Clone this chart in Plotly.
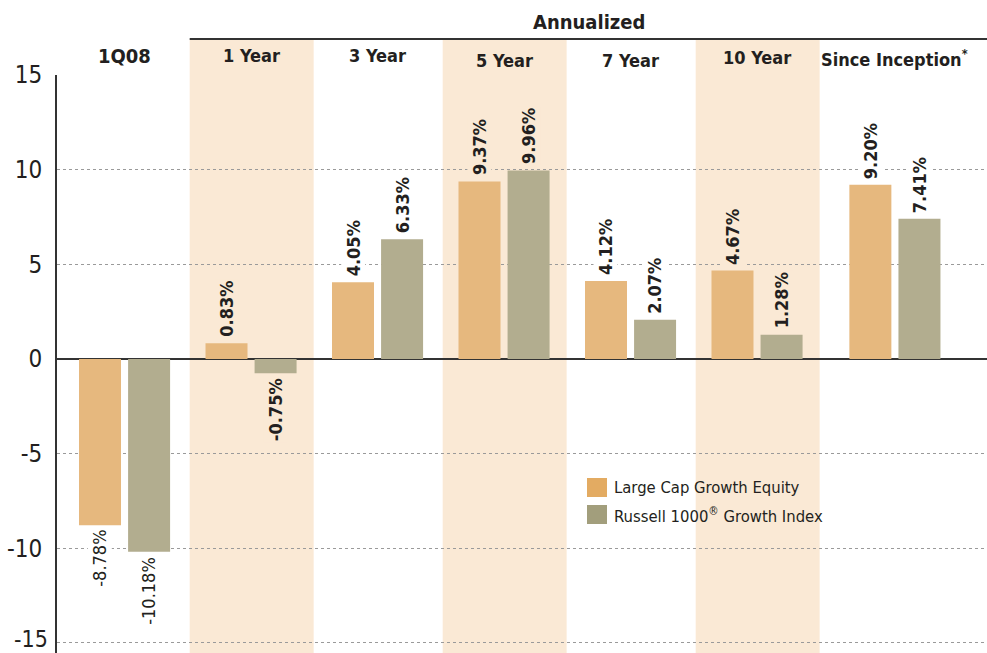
import plotly.graph_objects as go

# ---------------- data ----------------
categories = ["1Q08", "1 Year", "3 Year", "5 Year", "7 Year", "10 Year", "Since Inception"]
header_text = ["1Q08", "1 Year", "3 Year", "5 Year", "7 Year", "10 Year", "Since Inception<sup>*</sup>"]
large_cap = [-8.78, 0.83, 4.05, 9.37, 4.12, 4.67, 9.20]
russell = [-10.18, -0.75, 6.33, 9.96, 2.07, 1.28, 7.41]
series_names = ["Large Cap Growth Equity", "Russell 1000<sup>®</sup> Growth Index"]
y_ticks = [-15, -10, -5, 0, 5, 10, 15]
shaded = ["1 Year", "5 Year", "10 Year"]
group_title = "Annualized"

# ---------------- style ----------------
FONT = "DejaVu Sans Condensed, Liberation Sans Narrow, sans-serif"
TXT = "#231F20"
C1 = "#E6B87E"
C2 = "#B2AD8F"
SW1 = "#E3AB62"
SW2 = "#A29E7C"
BAND = "#FAE9D5"
cat_pos = [0, 1, 2, 3, 4, 5, 6.09]     # layout positions of categories
header_dy = [0, 0, 0, -5, -5, -2, -2]   # small vertical stagger of headers (px)
header_size = [20, 18, 18, 18, 18, 18, 18]
BW = 0.332
Y_RANGE = [-15.53, 15.001]

fig = go.Figure()
fig.add_trace(go.Bar(x=cat_pos, y=large_cap, name=series_names[0], marker_color=C1,
                     width=BW, offset=-0.36, marker_line_width=0, showlegend=False))
fig.add_trace(go.Bar(x=cat_pos, y=russell, name=series_names[1], marker_color=C2,
                     width=BW, offset=0.028, marker_line_width=0, showlegend=False))

shapes = []
annotations = []
# shaded bands
for c, p in zip(categories, cat_pos):
    if c in shaded:
        shapes.append(dict(type="rect", xref="x", yref="paper", x0=p - 0.485, x1=p + 0.495,
                           y0=0, y1=1.0623, fillcolor=BAND, line_width=0, layer="below"))

# Annualized line + title
x_start = cat_pos[1] - 0.485
shapes.append(dict(type="line", xref="x", yref="paper", x0=x_start, x1=6.818,
                   y0=1.0623, y1=1.0623, line=dict(color="#333333", width=2)))
annotations.append(dict(text="<b>" + group_title + "</b>", xref="paper", yref="paper",
                        x=0.572, y=1.0917, showarrow=False,
                        font=dict(family=FONT, size=20, color=TXT),
                        xanchor="center", yanchor="middle"))

# headers
for t, p, dy, fs in zip(header_text, cat_pos, header_dy, header_size):
    annotations.append(dict(text="<b>" + t + "</b>", xref="x", yref="paper", x=p, y=1.033,
                            yshift=dy, showarrow=False,
                            font=dict(family=FONT, size=fs, color=TXT),
                            xanchor="center", yanchor="middle"))

# value labels
for vals, off in ((large_cap, -0.36), (russell, 0.028)):
    for c, p, v in zip(categories, cat_pos, vals):
        bg = BAND if c in shaded else "white"
        txt = f"{v:.2f}%"
        if c != categories[0]:
            txt = "<b>" + txt + "</b>"
        annotations.append(dict(text=txt, xref="x", yref="y", x=p + off + BW / 2, y=v,
                                textangle=-90, showarrow=False,
                                font=dict(family=FONT, size=18, color=TXT),
                                xanchor="center",
                                yanchor="bottom" if v >= 0 else "top",
                                yshift=4 if v >= 0 else -3,
                                bgcolor=bg, borderpad=1))

# bottom tick label (would be clipped as a regular tick label)
annotations.append(dict(text=str(y_ticks[0]), xref="paper", yref="paper", x=0, y=0,
                        xanchor="right", yanchor="bottom", xshift=-8, yshift=0,
                        borderpad=0,
                        showarrow=False, font=dict(family=FONT, size=23, color=TXT)))

# legend (custom)
leg_x0, leg_x1 = 587, 607
for i, (nm, sw) in enumerate(zip(series_names, (SW1, SW2))):
    ytop = 478 + i * 27
    shapes.append(dict(type="rect", xref="paper", yref="paper",
                       x0=(leg_x0 - 57) / 930, x1=(leg_x1 - 57) / 930,
                       y0=(653 - ytop - 19) / 578, y1=(653 - ytop) / 578,
                       fillcolor=sw, line_width=0))
    annotations.append(dict(text=nm, xref="paper", yref="paper",
                            x=(612 - 57) / 930, y=(653 - ytop - 9.5) / 578,
                            showarrow=False, xanchor="left", yanchor="middle",
                            font=dict(family=FONT, size=16.5, color=TXT)))

fig.update_layout(
    width=987, height=653,
    margin=dict(l=57, r=0, t=75, b=0),
    plot_bgcolor="white", paper_bgcolor="white",
    barmode="overlay",
    shapes=shapes, annotations=annotations,
    font=dict(family=FONT, color=TXT),
    xaxis=dict(range=[-0.534, 6.818], showgrid=False, zeroline=False, showticklabels=False,
               showline=False, fixedrange=True),
    yaxis=dict(range=Y_RANGE, tickvals=y_ticks,
               ticktext=[""] + [str(t) for t in y_ticks[1:]],
               showgrid=True, gridcolor="#9a9a9a", griddash="dot", gridwidth=1,
               zeroline=True, zerolinecolor="#333333", zerolinewidth=2,
               showline=True, linecolor="#333333", linewidth=2,
               ticks="", ticklabelstandoff=8,
               tickfont=dict(family=FONT, size=24, color=TXT)),
)

fig.write_html("out.html")
